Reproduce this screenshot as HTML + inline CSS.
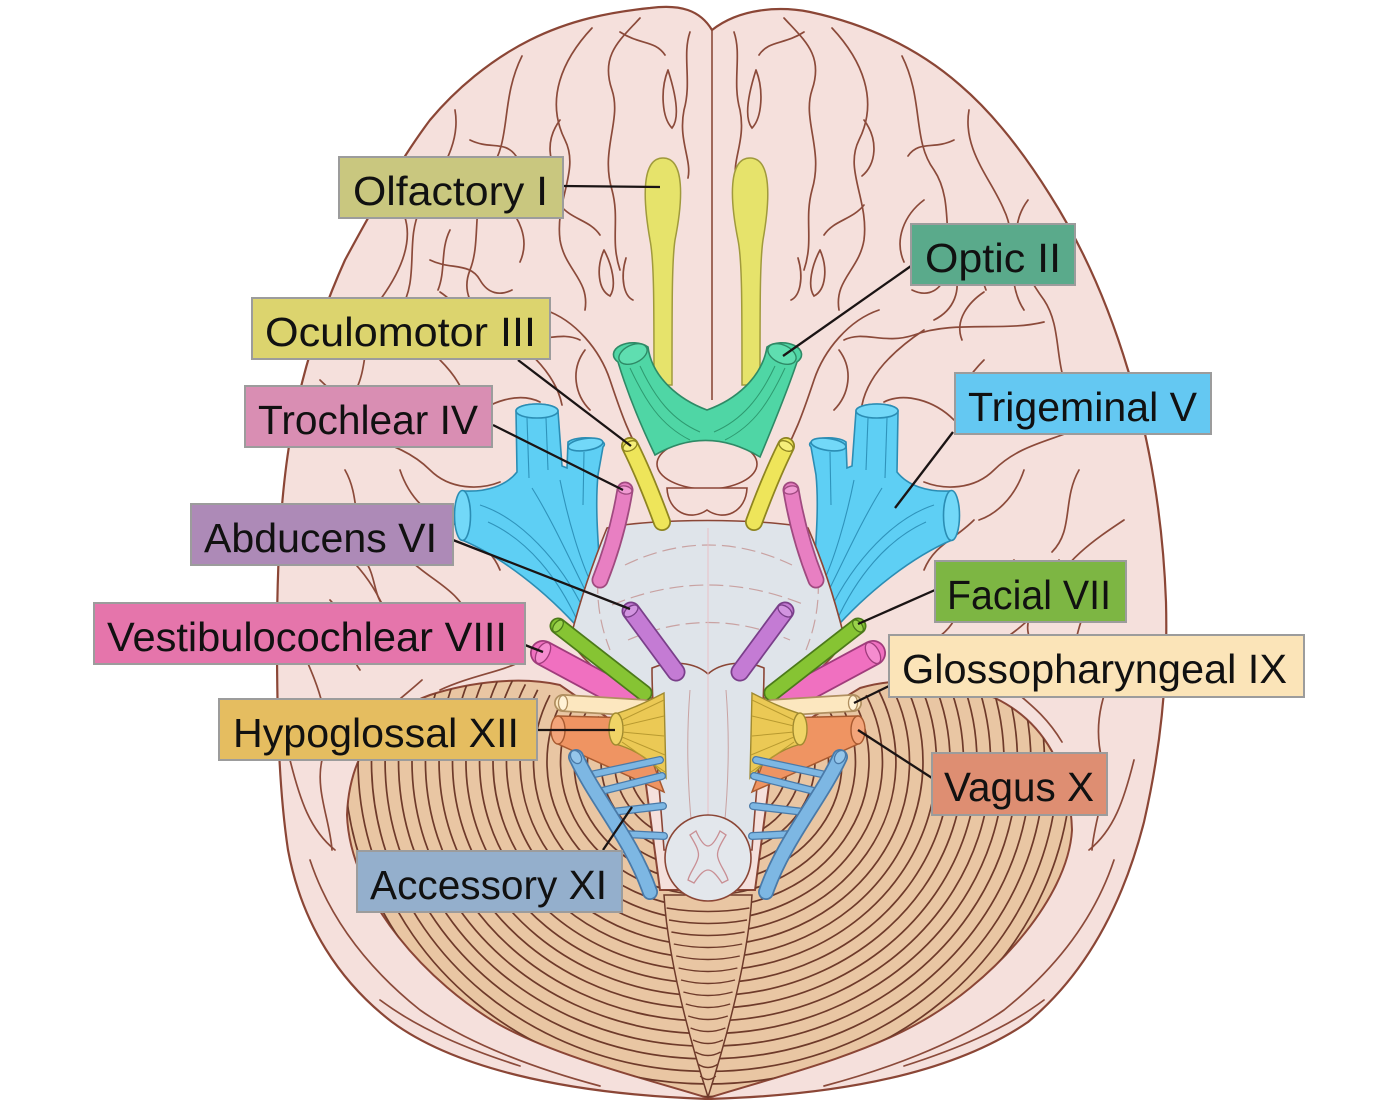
<!DOCTYPE html>
<html><head><meta charset="utf-8"><style>
html,body{margin:0;padding:0;background:#fff;}
svg{display:block;}
text{font-family:"Liberation Sans",Arial,sans-serif;font-size:41px;fill:#111;}
</style></head><body>
<svg width="1400" height="1100" viewBox="0 0 1400 1100" xmlns="http://www.w3.org/2000/svg">
<defs>
<clipPath id="cer"><path d="M 712 30 C 700 10, 680 4, 650 8 C 610 12, 570 20, 530 40 C 490 60, 455 90, 430 120 C 400 160, 372 210, 345 260 C 318 320, 300 380, 290 440 C 280 500, 277 570, 277 640 C 277 720, 279 790, 288 850 C 302 925, 340 982, 392 1022 C 452 1066, 560 1094, 708 1099 C 850 1095, 958 1070, 1028 1022 C 1088 972, 1124 900, 1144 822 C 1160 752, 1168 682, 1166 602 C 1163 520, 1150 440, 1128 370 C 1110 310, 1085 250, 1050 195 C 1025 155, 995 115, 960 85 C 920 50, 870 25, 810 12 C 780 6, 740 8, 712 30 Z"/></clipPath>
<clipPath id="cbc"><path d="M 708 1098 C 650 1080, 560 1058, 500 1025 C 430 985, 350 900, 347 815 C 349 760, 375 715, 430 695 C 470 682, 520 676, 560 685 L 640 740 L 660 890 L 755 890 L 775 740 L 860 688 C 900 676, 950 680, 995 698 C 1045 722, 1070 770, 1072 830 C 1068 900, 990 985, 915 1025 C 855 1058, 765 1080, 708 1098 Z"/></clipPath>
</defs>
<rect width="1400" height="1100" fill="#fff"/>

<!-- Cerebrum -->
<path d="M 712 30 C 700 10, 680 4, 650 8 C 610 12, 570 20, 530 40 C 490 60, 455 90, 430 120 C 400 160, 372 210, 345 260 C 318 320, 300 380, 290 440 C 280 500, 277 570, 277 640 C 277 720, 279 790, 288 850 C 302 925, 340 982, 392 1022 C 452 1066, 560 1094, 708 1099 C 850 1095, 958 1070, 1028 1022 C 1088 972, 1124 900, 1144 822 C 1160 752, 1168 682, 1166 602 C 1163 520, 1150 440, 1128 370 C 1110 310, 1085 250, 1050 195 C 1025 155, 995 115, 960 85 C 920 50, 870 25, 810 12 C 780 6, 740 8, 712 30 Z" fill="#f5e0dc" stroke="#8b4636" stroke-width="2.2"/>

<g clip-path="url(#cer)">
<g id="gyri" fill="none" stroke="#8b4a3a" stroke-width="1.7" stroke-linecap="round">
<path d="M 690 32 C 682 55, 692 82, 684 110 C 678 140, 692 160, 688 178"/>
<path d="M 668 70 C 660 90, 662 118, 672 128 C 680 118, 676 95, 668 70"/>
<path d="M 640 18 C 620 40, 600 55, 612 90 C 622 120, 600 150, 612 190 C 620 220, 610 240, 620 270"/>
<path d="M 592 28 C 562 60, 545 100, 565 140 C 580 170, 555 200, 560 240 C 565 270, 590 280, 585 310"/>
<path d="M 522 56 C 500 100, 512 140, 490 170 C 470 200, 482 240, 470 270 C 462 290, 470 310, 490 320"/>
<path d="M 455 110 C 462 150, 432 180, 420 210 C 405 240, 420 280, 400 310"/>
<path d="M 396 200 C 420 232, 402 270, 380 300 C 360 330, 372 370, 350 400"/>
<path d="M 604 250 C 596 268, 598 290, 610 296 C 617 286, 612 265, 604 250"/>
<path d="M 626 258 C 620 278, 624 296, 633 300"/>
<path d="M 545 310 C 575 320, 600 350, 610 380 C 620 410, 630 440, 650 470"/>
<path d="M 500 330 C 530 350, 556 375, 562 405"/>
<path d="M 380 322 C 420 332, 470 320, 510 335 C 540 345, 560 330, 580 340"/>
<path d="M 330 420 C 360 440, 400 440, 430 470 C 450 490, 480 490, 500 482"/>
<path d="M 300 520 C 330 540, 360 560, 380 600 C 390 620, 420 640, 440 652"/>
<path d="M 410 560 C 430 580, 460 590, 470 620 C 480 640, 510 650, 522 662"/>
<path d="M 345 470 C 362 500, 350 530, 372 552"/>
<path d="M 302 650 C 320 690, 332 720, 322 760 C 315 790, 330 820, 332 850"/>
<path d="M 422 680 C 400 700, 380 712, 362 742"/>
<path d="M 520 662 C 500 672, 470 676, 440 690"/>
<path d="M 310 860 C 330 920, 370 970, 420 1010 C 470 1045, 540 1070, 600 1086"/>
<path d="M 470 420 C 490 400, 520 392, 540 402"/>
<path d="M 365 560 C 378 580, 372 600, 390 612 C 400 622, 398 640, 385 650"/>
<path d="M 440 360 C 460 380, 470 400, 466 420"/>
<path d="M 560 205 C 572 220, 590 220, 600 235"/>
<path d="M 430 260 C 450 270, 470 262, 480 280 C 488 294, 500 296, 512 290"/>
<path d="M 450 230 C 440 250, 446 270, 438 290"/>
<path d="M 560 120 C 545 140, 548 165, 562 176"/>
<path d="M 500 200 C 520 215, 530 240, 520 262"/>
<path d="M 620 32 C 640 45, 655 40, 665 55"/>
<path d="M 470 140 C 490 150, 505 140, 516 156"/>
<path d="M 440 292 C 455 302, 470 320, 462 340"/>
<path d="M 320 380 C 340 400, 360 410, 385 405"/>
<path d="M 330 600 C 350 620, 345 650, 360 670"/>
<path d="M 450 520 C 470 540, 490 545, 500 570"/>
<path d="M 400 470 C 410 500, 430 515, 445 520"/>
<path d="M 290 760 C 300 800, 310 830, 335 850"/>
<path d="M 380 1000 C 420 1030, 470 1050, 520 1066"/>
<path d="M 585 350 C 570 370, 575 395, 590 410"/>
</g>
<use href="#gyri" transform="matrix(-1 0 0 1 1424 0)"/>
<path d="M 712 30 L 712 400" stroke="#8b4a3a" stroke-width="1.6" fill="none"/>
</g>

<!-- Cerebellum -->
<path d="M 708 1098 C 650 1080, 560 1058, 500 1025 C 430 985, 350 900, 347 815 C 349 760, 375 715, 430 695 C 470 682, 520 676, 560 685 L 640 740 L 660 890 L 755 890 L 775 740 L 860 688 C 900 676, 950 680, 995 698 C 1045 722, 1070 770, 1072 830 C 1068 900, 990 985, 915 1025 C 855 1058, 765 1080, 708 1098 Z" fill="#e9c6a3" stroke="#8b4636" stroke-width="2"/>
<g clip-path="url(#cbc)">
<g id="folia" fill="none" stroke="#6e3a2a" stroke-width="1.7">
<path d="M 635.5 732.4 A 80 70 0 0 0 708 832"/>
<path d="M 623.3 727.1 A 93.5 82.6 0 0 0 708 844.6"/>
<path d="M 611.1 721.7 A 107 95.2 0 0 0 708 857.2"/>
<path d="M 598.8 716.4 A 120.5 107.8 0 0 0 708 869.8"/>
<path d="M 586.6 711.1 A 134 120.4 0 0 0 708 882.4"/>
<path d="M 574.4 705.7 A 147.5 133 0 0 0 708 895"/>
<path d="M 562.1 700.4 A 161 145.6 0 0 0 708 907.6"/>
<path d="M 549.9 695.1 A 174.5 158.2 0 0 0 708 920.2"/>
<path d="M 537.7 689.8 A 188 170.8 0 0 0 708 932.8"/>
<path d="M 525.4 684.4 A 201.5 183.4 0 0 0 708 945.4"/>
<path d="M 513.2 679.1 A 215 196 0 0 0 708 958"/>
<path d="M 501 673.8 A 228.5 208.6 0 0 0 708 970.6"/>
<path d="M 488.7 668.4 A 242 221.2 0 0 0 708 983.2"/>
<path d="M 476.5 663.1 A 255.5 233.8 0 0 0 708 995.8"/>
<path d="M 464.3 657.8 A 269 246.4 0 0 0 708 1008.4"/>
<path d="M 452 652.4 A 282.5 259 0 0 0 708 1021"/>
<path d="M 439.8 647.1 A 296 271.6 0 0 0 708 1033.6"/>
<path d="M 427.6 641.8 A 309.5 284.2 0 0 0 708 1046.2"/>
<path d="M 415.4 636.5 A 323 296.8 0 0 0 708 1058.8"/>
<path d="M 403.1 631.1 A 336.5 309.4 0 0 0 708 1071.4"/>
<path d="M 390.9 625.8 A 350 322 0 0 0 708 1084"/>
<path d="M 378.7 620.5 A 363.5 334.6 0 0 0 708 1096.6"/>
</g>
<use href="#folia" transform="matrix(-1 0 0 1 1416 0)"/>
</g>
<!-- vermis -->
<path d="M 664 895 C 668 960, 690 1040, 708 1097 C 726 1040, 748 960, 752 895 Z" fill="#e9c6a3" stroke="#6e3a2a" stroke-width="1.5"/>
<g fill="none" stroke="#6e3a2a" stroke-width="1.4">
<path d="M 666.6 908 Q 708 915 749.4 908"/><path d="M 669 920 Q 708 927 747 920"/>
<path d="M 671.4 932 Q 708 939 744.6 932"/><path d="M 673.8 944 Q 708 951 742.2 944"/>
<path d="M 676.2 956 Q 708 963 739.8 956"/><path d="M 678.6 968 Q 708 975 737.4 968"/>
<path d="M 681 980 Q 708 987 735 980"/><path d="M 683.4 992 Q 708 999 732.6 992"/>
<path d="M 685.8 1004 Q 708 1011 730.2 1004"/><path d="M 688.2 1016 Q 708 1023 727.8 1016"/>
<path d="M 690.6 1028 Q 708 1035 725.4 1028"/><path d="M 693 1040 Q 708 1047 723 1040"/>
<path d="M 695.4 1052 Q 708 1059 720.6 1052"/><path d="M 697.8 1064 Q 708 1071 718.2 1064"/>
<path d="M 700.2 1076 Q 708 1083 715.8 1076"/>
</g>

<!-- Trigeminal -->
<g id="tri">
<path d="M 516 411 L 517 472 C 506 486, 486 492, 465 491 A 8 25 0 0 0 462 540 C 500 556, 545 590, 582 632 C 592 612, 598 592, 600 572 C 598 540, 595 505, 598 475 L 603 447 A 17 6 0 0 0 568 442 L 567 468 L 562 466 L 558 411 A 21 7 0 0 0 516 411 Z" fill="#5ecff4" stroke="#2b8db4" stroke-width="1.6"/>
<ellipse cx="537" cy="411" rx="21" ry="7" fill="#72d8f8" stroke="#2b8db4" stroke-width="1.6"/>
<ellipse cx="585.5" cy="444.5" rx="17.5" ry="6" transform="rotate(-8 585.5 444.5)" fill="#72d8f8" stroke="#2b8db4" stroke-width="1.6"/>
<ellipse cx="462.5" cy="515.5" rx="8" ry="25" fill="#72d8f8" stroke="#2b8db4" stroke-width="1.6"/>
<g fill="none" stroke="#2f93bb" stroke-width="1.1">
<path d="M 527 418 L 529 478"/><path d="M 546 418 L 548 470"/>
<path d="M 480 505 C 520 518, 560 560, 585 612"/>
<path d="M 488 522 C 528 540, 558 578, 578 622"/>
<path d="M 584 452 L 583 505"/>
<path d="M 532 488 C 552 520, 570 560, 590 600"/>
<path d="M 560 480 C 568 520, 580 560, 592 585"/>
</g>
</g>
<use href="#tri" transform="matrix(-1 0 0 1 1414 0)"/>

<!-- Pons -->
<path d="M 607 528 C 650 518, 765 518, 808 528 C 822 560, 835 600, 845 640 C 830 665, 800 685, 775 698 L 640 698 C 615 685, 585 665, 570 640 C 580 600, 594 560, 607 528 Z" fill="#dfe4ea" stroke="#8b4636" stroke-width="1.6"/>
<g fill="none" stroke="#c9a2a2" stroke-width="1.2" stroke-dasharray="14 6">
<path d="M 625 565 Q 708 525 792 565"/>
<path d="M 612 605 Q 708 565 805 605"/>
<path d="M 628 640 Q 708 605 790 640"/>
<path d="M 600 560 C 595 590, 598 620, 610 650"/>
<path d="M 816 560 C 821 590, 818 620, 806 650"/>
</g>

<!-- Tuber / mammillary -->
<ellipse cx="707" cy="464" rx="50" ry="25" fill="#f5e0dc" stroke="#8b4636" stroke-width="1.6"/>
<path d="M 667 488 C 668 512, 690 522, 707 510 C 724 522, 746 512, 747 488 Z" fill="#f5e0dc" stroke="#8b4636" stroke-width="1.6"/>

<!-- Olfactory -->
<path d="M 663 158 C 685 158, 683 200, 675 240 C 672 260, 672 300, 672 385 L 654 385 C 654 300, 654 260, 650 240 C 643 200, 641 158, 663 158 Z" fill="#e6e36b" stroke="#a09a3c" stroke-width="1.5"/>
<path d="M 750 158 C 772 158, 770 200, 763 240 C 760 260, 760 300, 760 385 L 742 385 C 742 300, 742 260, 738 240 C 730 200, 728 158, 750 158 Z" fill="#e6e36b" stroke="#a09a3c" stroke-width="1.5"/>

<!-- Optic chiasm -->
<path d="M 618 362 C 628 395, 642 428, 655 455 Q 707 425 760 457 C 772 428, 786 395, 797 362 A 15 9 0 0 0 767 347 C 762 378, 735 400, 707 410 C 680 400, 652 378, 648 347 A 15 9 0 0 0 618 362 Z" fill="#4fd6a5" stroke="#2e8a66" stroke-width="1.6"/>
<ellipse cx="633" cy="354" rx="15" ry="9" transform="rotate(-25 633 354)" fill="#5fdeb0" stroke="#2e8a66" stroke-width="1.4"/>
<ellipse cx="782" cy="354" rx="15" ry="9" transform="rotate(25 782 354)" fill="#5fdeb0" stroke="#2e8a66" stroke-width="1.4"/>
<g fill="none" stroke="#2e9a70" stroke-width="1">
<path d="M 630 368 C 645 400, 660 425, 690 440"/><path d="M 640 366 C 655 398, 672 420, 700 432"/>
<path d="M 785 368 C 770 400, 755 425, 725 440"/><path d="M 775 366 C 760 398, 742 420, 714 432"/>
</g>

<!-- Medulla -->
<path d="M 652 668 C 670 660, 695 662, 708 674 C 721 662, 746 660, 764 668 C 764 720, 756 790, 752 850 L 664 850 C 660 790, 652 720, 652 668 Z" fill="#dfe4ea" stroke="#8b4636" stroke-width="1.6"/>
<path d="M 708 528 L 708 900" stroke="#e8c0c6" stroke-width="1" fill="none"/>
<g fill="none" stroke="#c9a2a2" stroke-width="1">
<path d="M 690 690 C 686 740, 688 790, 692 830"/><path d="M 726 690 C 730 740, 728 790, 724 830"/>
</g>

<!-- Upper nerves (trochlear, oculomotor) -->
<g id="n1">
<path d="M 625 490 C 620 520, 612 550, 600 580" fill="none" stroke="#a04a80" stroke-width="17" stroke-linecap="round"/>
<path d="M 625 490 C 620 520, 612 550, 600 580" fill="none" stroke="#e87fc2" stroke-width="13.5" stroke-linecap="round"/>
<ellipse cx="625" cy="490" rx="4" ry="7" transform="rotate(100 625 490)" fill="#f09ad2" stroke="#a04a80" stroke-width="1.3"/>
<path d="M 630 446 C 642 470, 652 495, 662 522" fill="none" stroke="#8f8520" stroke-width="18" stroke-linecap="round"/>
<path d="M 630 446 C 642 470, 652 495, 662 522" fill="none" stroke="#eee55a" stroke-width="14.5" stroke-linecap="round"/>
<ellipse cx="630" cy="446" rx="4.5" ry="7.5" transform="rotate(62 630 446)" fill="#f5ee7a" stroke="#8f8520" stroke-width="1.3"/>
</g>
<use href="#n1" transform="matrix(-1 0 0 1 1416 0)"/>

<!-- Lower nerves -->
<g id="n2">
<line x1="631" y1="611" x2="676" y2="672" stroke="#7a3f8a" stroke-width="19" stroke-linecap="round"/>
<line x1="631" y1="611" x2="676" y2="672" stroke="#c47bd4" stroke-width="15.5" stroke-linecap="round"/>
<ellipse cx="631" cy="611" rx="4.5" ry="8" transform="rotate(53 631 611)" fill="#d294e0" stroke="#7a3f8a" stroke-width="1.3"/>
<line x1="543" y1="653" x2="634" y2="702" stroke="#a03c7c" stroke-width="26" stroke-linecap="round"/>
<line x1="543" y1="653" x2="634" y2="702" stroke="#f070c0" stroke-width="22.5" stroke-linecap="round"/>
<ellipse cx="543" cy="653" rx="6" ry="11.5" transform="rotate(29 543 653)" fill="#f58ccf" stroke="#a03c7c" stroke-width="1.3"/>
<line x1="558" y1="626" x2="644" y2="693" stroke="#4c7a1a" stroke-width="17" stroke-linecap="round"/>
<line x1="558" y1="626" x2="644" y2="693" stroke="#86c433" stroke-width="13.5" stroke-linecap="round"/>
<ellipse cx="558" cy="626" rx="4" ry="7" transform="rotate(38 558 626)" fill="#9ad24a" stroke="#4c7a1a" stroke-width="1.3"/>
<line x1="563" y1="703" x2="644" y2="708" stroke="#b08f60" stroke-width="18" stroke-linecap="round"/>
<line x1="563" y1="703" x2="644" y2="708" stroke="#fce7bf" stroke-width="14.5" stroke-linecap="round"/>
<ellipse cx="563" cy="703" rx="4.5" ry="7.5" fill="#fff2d6" stroke="#b08f60" stroke-width="1.3"/>
<path d="M 558 716 L 636 718 L 664 792 L 646 784 L 558 744 Z" fill="#ef9462" stroke="#a85a30" stroke-width="1.5"/>
<ellipse cx="558" cy="730" rx="7" ry="14" fill="#f3a57a" stroke="#a85a30" stroke-width="1.4"/>
<path d="M 615 714 C 635 708, 650 700, 664 693 L 666 778 C 652 762, 638 750, 615 744 Z" fill="#ebc955" stroke="#a08a30" stroke-width="1.4"/>
<ellipse cx="616" cy="729" rx="7" ry="16" fill="#f0d466" stroke="#a08a30" stroke-width="1.4"/>
<g stroke="#b89a30" stroke-width="1" fill="none">
<path d="M 622 720 L 664 700"/><path d="M 622 726 L 664 716"/><path d="M 622 732 L 664 736"/>
<path d="M 622 737 L 665 755"/><path d="M 622 742 L 665 772"/>
</g>
<g fill="none" stroke-linecap="round">
<path d="M 598 792 L 662 776 M 612 812 L 663 806 M 624 834 L 664 836 M 590 775 L 660 760" stroke="#4a7aa8" stroke-width="8"/>
<path d="M 598 792 L 662 776 M 612 812 L 663 806 M 624 834 L 664 836 M 590 775 L 660 760" stroke="#7db7e3" stroke-width="5.5"/>
<path d="M 576 757 C 596 800, 632 840, 650 892" stroke="#4a7aa8" stroke-width="16"/>
<path d="M 576 757 C 596 800, 632 840, 650 892" stroke="#7db7e3" stroke-width="12.5"/>
</g>
<ellipse cx="576" cy="757" rx="5" ry="7" transform="rotate(-30 576 757)" fill="#95c6ea" stroke="#4a7aa8" stroke-width="1.3"/>
</g>
<use href="#n2" transform="matrix(-1 0 0 1 1416 0)"/>

<!-- Spinal cord section -->
<circle cx="708" cy="858" r="43" fill="#e3e7ec" stroke="#8b4636" stroke-width="1.6"/>
<path d="M 690 835 C 696 845, 700 852, 698 858 C 696 866, 690 872, 688 880 L 694 883 C 700 874, 704 870, 708 870 C 712 870, 716 874, 722 883 L 728 880 C 726 872, 720 866, 718 858 C 716 852, 720 845, 726 835 L 720 831 C 716 840, 712 846, 708 846 C 704 846, 700 840, 696 831 Z" fill="none" stroke="#c98f94" stroke-width="1.3"/>

<!-- Leader lines -->
<g stroke="#1a1414" stroke-width="2.3" fill="none">
<line x1="563" y1="186" x2="660" y2="187"/>
<line x1="911" y1="266" x2="783" y2="356"/>
<line x1="518" y1="360" x2="631" y2="446"/>
<line x1="493" y1="425" x2="623" y2="490"/>
<line x1="953" y1="432" x2="895" y2="508"/>
<line x1="453" y1="540" x2="630" y2="609"/>
<line x1="935" y1="590" x2="858" y2="624"/>
<line x1="525" y1="645" x2="543" y2="652"/>
<line x1="889" y1="686" x2="854" y2="703"/>
<line x1="537" y1="730" x2="615" y2="730"/>
<line x1="932" y1="778" x2="858" y2="730"/>
<line x1="603" y1="850" x2="632" y2="807"/>
</g>

<!-- Labels -->
<g stroke="#9c9c9c" stroke-width="2">
<rect x="339" y="157" width="224" height="61" fill="#c9c77f"/>
<rect x="911" y="224" width="164" height="61" fill="#5aaa8b"/>
<rect x="252" y="298" width="298" height="61" fill="#dcd46e"/>
<rect x="245" y="386" width="247" height="61" fill="#d98eb3"/>
<rect x="955" y="373" width="256" height="61" fill="#64c8f2"/>
<rect x="191" y="504" width="262" height="61" fill="#ad8ab7"/>
<rect x="935" y="561" width="191" height="61" fill="#7db643"/>
<rect x="94" y="603" width="431" height="61" fill="#e575ab"/>
<rect x="889" y="635" width="415" height="62" fill="#fbe4b8"/>
<rect x="219" y="699" width="318" height="61" fill="#e5bd60"/>
<rect x="932" y="753" width="175" height="62" fill="#de8e72"/>
<rect x="357" y="851" width="265" height="61" fill="#94afcc"/>
</g>
<text x="353" y="205" textLength="195" lengthAdjust="spacingAndGlyphs">Olfactory I</text>
<text x="925" y="272" textLength="136" lengthAdjust="spacingAndGlyphs">Optic II</text>
<text x="265" y="346" textLength="271" lengthAdjust="spacingAndGlyphs">Oculomotor III</text>
<text x="258" y="434" textLength="220" lengthAdjust="spacingAndGlyphs">Trochlear IV</text>
<text x="968" y="421" textLength="229" lengthAdjust="spacingAndGlyphs">Trigeminal V</text>
<text x="204" y="552" textLength="233" lengthAdjust="spacingAndGlyphs">Abducens VI</text>
<text x="947" y="609" textLength="164" lengthAdjust="spacingAndGlyphs">Facial VII</text>
<text x="107" y="651" textLength="400" lengthAdjust="spacingAndGlyphs">Vestibulocochlear VIII</text>
<text x="902" y="683" textLength="385" lengthAdjust="spacingAndGlyphs">Glossopharyngeal IX</text>
<text x="233" y="747" textLength="286" lengthAdjust="spacingAndGlyphs">Hypoglossal XII</text>
<text x="944" y="801" textLength="150" lengthAdjust="spacingAndGlyphs">Vagus X</text>
<text x="370" y="899" textLength="237" lengthAdjust="spacingAndGlyphs">Accessory XI</text>
</svg>
</body></html>
